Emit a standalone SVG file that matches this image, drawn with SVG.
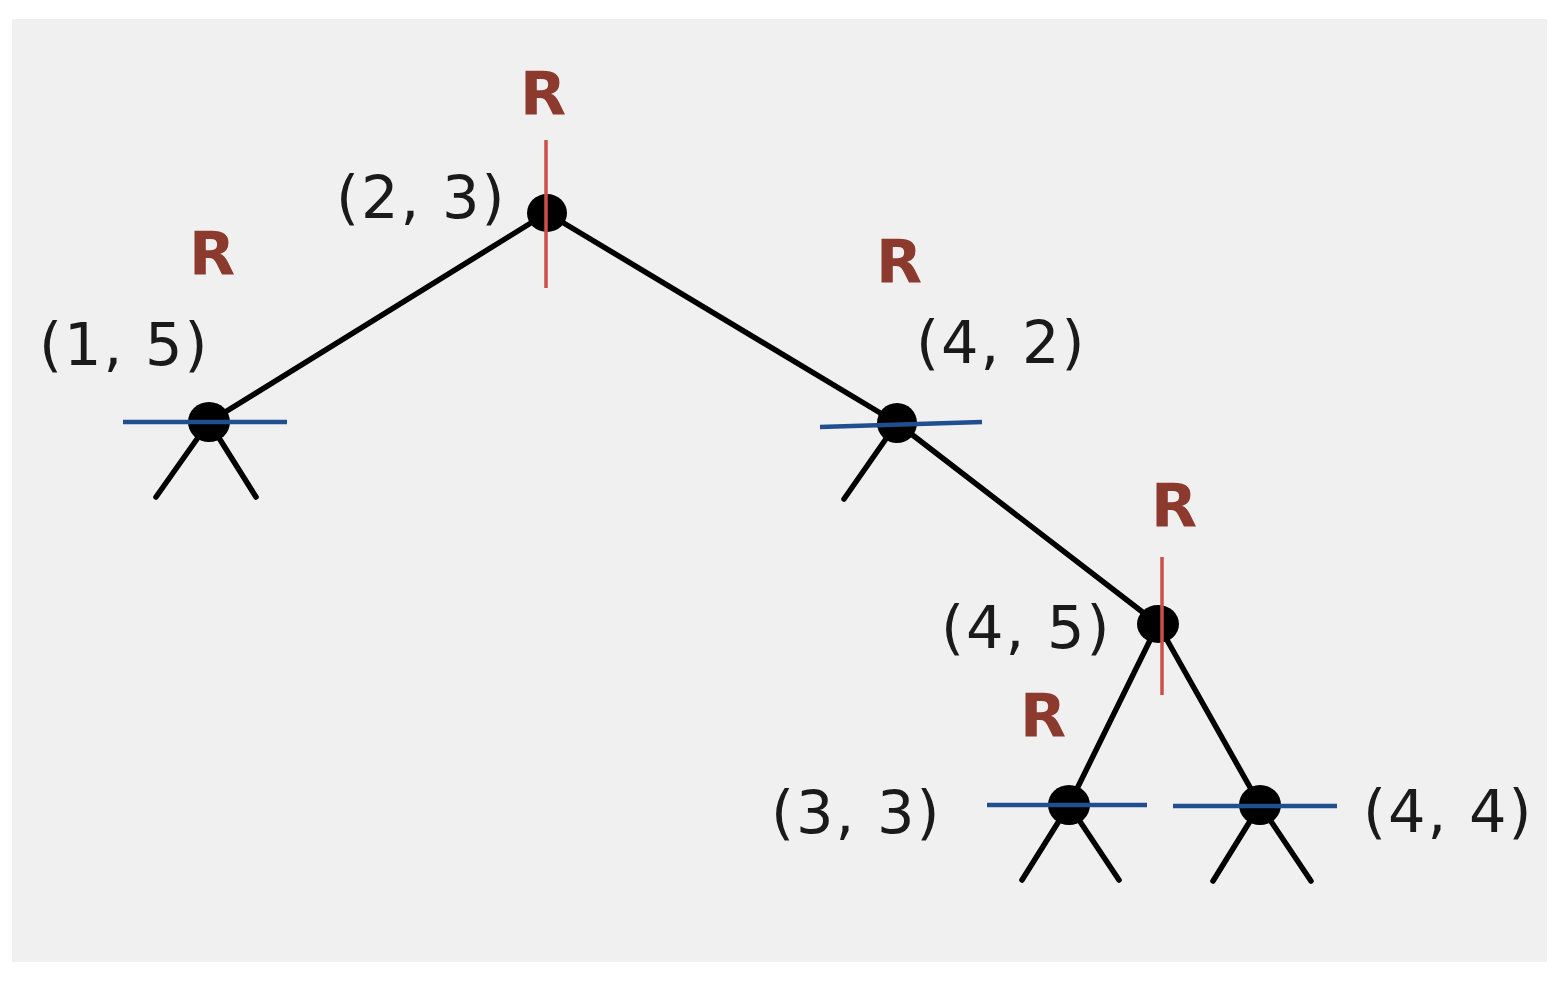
<svg xmlns="http://www.w3.org/2000/svg" width="1564" height="986" viewBox="0 0 1564 986">
<style>
.edge{stroke:#000;stroke-width:5.5;stroke-linecap:round;fill:none}
.dot{fill:#000}
.hs{stroke:#1f4f8f;stroke-width:4.5}
.vs{stroke:#cd5048;stroke-width:3.5}
.lbl{font-family:"DejaVu Sans",sans-serif;font-size:59px;letter-spacing:2px;fill:#1a1a1a}
.r{font-family:"DejaVu Sans",sans-serif;font-weight:bold;font-size:60px;fill:#8b3a2d;text-anchor:middle}
</style>
<rect width="1564" height="986" fill="#fff"/>
<rect x="12" y="19" width="1535" height="943" fill="#f0f0f0"/>
<g id="connectors">
<line class="edge" x1="547" y1="213" x2="209" y2="422"/>
<line class="edge" x1="547" y1="213" x2="897" y2="423"/>
<line class="edge" x1="897" y1="423" x2="1158" y2="624"/>
<line class="edge" x1="1158" y1="624" x2="1069" y2="805"/>
<line class="edge" x1="1158" y1="624" x2="1260" y2="805"/>
<line class="edge" x1="209" y1="422" x2="156" y2="497"/>
<line class="edge" x1="209" y1="422" x2="256" y2="497"/>
<line class="edge" x1="897" y1="423" x2="844" y2="499"/>
<line class="edge" x1="1069" y1="805" x2="1022" y2="880"/>
<line class="edge" x1="1069" y1="805" x2="1119" y2="880"/>
<line class="edge" x1="1260" y1="805" x2="1213" y2="881"/>
<line class="edge" x1="1260" y1="805" x2="1311" y2="881"/>
</g>
<g id="n23">
<ellipse class="dot" cx="547" cy="213" rx="20" ry="19"/>
<line class="vs" x1="546" y1="140" x2="546" y2="288"/>
<text class="lbl" x="336" y="218">(2, 3)</text>
<text class="r" x="543" y="115">R</text>
</g>
<g id="n15">
<ellipse class="dot" cx="209" cy="422" rx="21" ry="20"/>
<line class="hs" x1="123" y1="422" x2="287" y2="422"/>
<text class="lbl" x="39" y="365">(1, 5)</text>
<text class="r" x="212" y="275">R</text>
</g>
<g id="n42">
<ellipse class="dot" cx="897" cy="423" rx="20" ry="20"/>
<line class="hs" x1="820" y1="427" x2="982" y2="422"/>
<text class="lbl" x="916" y="363">(4, 2)</text>
<text class="r" x="899" y="283">R</text>
</g>
<g id="n45">
<ellipse class="dot" cx="1158" cy="624" rx="21" ry="19"/>
<line class="vs" x1="1162" y1="557" x2="1162" y2="695"/>
<text class="lbl" x="941" y="648">(4, 5)</text>
<text class="r" x="1174" y="527">R</text>
</g>
<g id="n33">
<ellipse class="dot" cx="1069" cy="805" rx="21" ry="20"/>
<line class="hs" x1="987" y1="805" x2="1147" y2="805"/>
<text class="lbl" x="771" y="833">(3, 3)</text>
<text class="r" x="1043" y="737">R</text>
</g>
<g id="n44">
<ellipse class="dot" cx="1260" cy="805" rx="21" ry="20"/>
<line class="hs" x1="1173" y1="806" x2="1337" y2="806"/>
<text class="lbl" x="1363" y="832">(4, 4)</text>
</g>
</svg>
